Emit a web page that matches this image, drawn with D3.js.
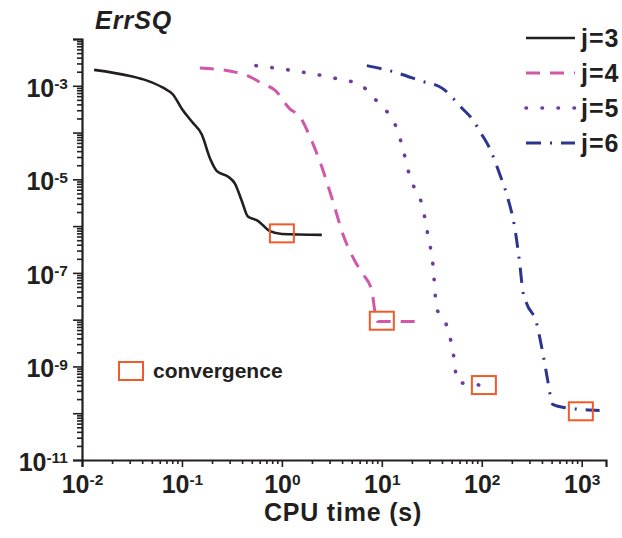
<!DOCTYPE html>
<html>
<head>
<meta charset="utf-8">
<script src="https://cdn.jsdelivr.net/npm/d3@7"></script>
<style>
  body { margin: 0; background: #fff; }
  svg { font-family: "Liberation Sans", Arial, sans-serif; font-weight: bold; }
</style>
</head>
<body>
<svg id="chart" width="622" height="538"></svg>
<script>
// series: CPU time (s) and squared error
const t3 = [0.0132, 0.0302, 0.0447, 0.0646, 0.0813, 0.1, 0.126, 0.158, 0.191, 0.224, 0.288, 0.339, 0.398, 0.457, 0.575, 0.759, 1.0, 2.51];
const e3 = [2.19e-3, 1.62e-3, 1.29e-3, 9.1e-4, 6.5e-4, 3.2e-4, 1.7e-4, 9.1e-5, 2.8e-5, 1.5e-5, 1.15e-5, 8.1e-6, 3.4e-6, 1.6e-6, 1.3e-6, 7.8e-7, 6.8e-7, 6.5e-7];

const t4 = [0.151, 0.363, 0.479, 0.646, 0.851, 1.20, 1.51, 1.91, 2.40, 3.24, 4.07, 5.37, 6.46, 7.94, 8.51, 9.12, 22.4];
const e4 = [2.4e-3, 1.9e-3, 1.55e-3, 1.1e-3, 8.1e-4, 3.2e-4, 2.2e-4, 8.1e-5, 2.4e-5, 3.4e-6, 6.8e-7, 1.8e-7, 9.5e-8, 4.2e-8, 1.55e-8, 9.1e-9, 9.1e-9];

const t5 = [0.55, 1.51, 3.24, 6.31, 7.59, 9.55, 12.6, 14.5, 16.2, 19.1, 21.4, 25.1, 28.8, 32.4, 35.5, 42.7, 51.3, 57.5, 81.3, 115];
const e5 = [2.7e-3, 2.0e-3, 1.48e-3, 1.0e-3, 6.8e-4, 4.0e-4, 2.0e-4, 1.05e-4, 4.6e-5, 1.15e-5, 6.2e-6, 3.0e-6, 6.8e-7, 1.55e-7, 1.7e-8, 9.5e-9, 2.2e-9, 4.6e-10, 4.2e-10, 3.7e-10];

const t6 = [7.08, 12.0, 24.0, 40.7, 64.6, 79.4, 100, 120, 151, 182, 214, 240, 257, 282, 355, 380, 427, 457, 513, 708, 1510];
const e6 = [2.7e-3, 2.1e-3, 1.29e-3, 8.7e-4, 3.2e-4, 2.0e-4, 9.1e-5, 4.6e-5, 1.3e-5, 4.0e-6, 9.1e-7, 1.55e-7, 4.2e-8, 2.2e-8, 8.1e-9, 4.2e-9, 1.15e-9, 5.0e-10, 1.55e-10, 1.3e-10, 1.15e-10];

const seriesNames = ["j=3", "j=4", "j=5", "j=6"];
const convTime = [1.0, 10, 105, 980];
const convErr = [7.0e-7, 9.5e-9, 4.0e-10, 1.1e-10];

const xTicks = [1e-2, 1e-1, 1e0, 1e1, 1e2, 1e3];
const yTicks = [1e-2, 1e-3, 1e-4, 1e-5, 1e-6, 1e-7, 1e-8, 1e-9, 1e-10, 1e-11];
const yLabelled = [1e-3, 1e-5, 1e-7, 1e-9, 1e-11];

const ink = "#231f20";
const styles = [
  { color: "#231f20", dash: null, width: 2.6, cap: "butt" },
  { color: "#d257a8", dash: "14,10", width: 3, cap: "butt" },
  { color: "#6e3c9c", dash: "0.5,15.5", width: 3.6, cap: "round" },
  { color: "#2b3590", dash: "15,9,2,9", width: 3, cap: "butt" }
];
const convColor = "#f15a29";

const svg = d3.select("#chart");

const x = d3.scaleLog().domain([0.01, 1750]).range([82, 606]);
const y = d3.scaleLog().domain([1e-11, 1e-2]).range([460, 39]);

// minor tick values (2..9 per decade)
function minors(lo, hi) {
  const out = [];
  for (let p = lo; p < hi; p++)
    for (let m = 2; m <= 9; m++) out.push(m * Math.pow(10, p));
  return out;
}

function sup(sel) {
  sel.each(function(d) {
    const t = d3.select(this);
    const exp = Math.round(Math.log10(d));
    t.text(null);
    t.append("tspan").text("10");
    t.append("tspan").attr("dy", "-0.5em").attr("font-size", "0.62em").text(exp);
  });
}

// x axis
svg.append("g")
  .attr("transform", "translate(0,460)")
  .call(d3.axisBottom(x).tickValues(minors(-2, 4).filter(v => v < 1750)).tickSize(4).tickFormat(""))
  .call(g => g.select(".domain").remove());

const xa = svg.append("g")
  .attr("transform", "translate(0,460)")
  .call(d3.axisBottom(x).tickValues(xTicks).tickSize(7).tickPadding(6));
xa.selectAll(".tick text").attr("font-size", 25).attr("fill", ink).attr("dy", "0.78em").call(sup);

// y axis
svg.append("g")
  .attr("transform", "translate(82,0)")
  .call(d3.axisLeft(y).tickValues(minors(-11, -2)).tickSize(5).tickFormat(""))
  .call(g => g.select(".domain").remove());

const ya = svg.append("g")
  .attr("transform", "translate(82,0)")
  .call(d3.axisLeft(y).tickValues(yTicks).tickSize(9).tickPadding(5));
ya.selectAll(".tick text")
  .filter(d => !yLabelled.includes(d)).remove();
ya.selectAll(".tick text").attr("font-size", 25).attr("fill", ink).attr("dy", "0.42em").call(sup);

svg.selectAll(".domain").attr("stroke", ink).attr("stroke-width", 2.2);
svg.selectAll(".tick line").attr("stroke", ink).attr("stroke-width", 1.6);

// curves
const allT = [t3, t4, t5, t6];
const allE = [e3, e4, e5, e6];
const line = d3.line()
  .x(d => x(d[0]))
  .y(d => y(d[1]))
  .curve(d3.curveMonotoneX);

allT.forEach((ts, i) => {
  const pts = ts.map((t, k) => [t, allE[i][k]]);
  const s = styles[i];
  svg.append("path")
    .datum(pts)
    .attr("d", line)
    .attr("fill", "none")
    .attr("stroke", s.color)
    .attr("stroke-width", s.width)
    .attr("stroke-linecap", s.cap)
    .attr("stroke-dasharray", s.dash);
});

// convergence markers
svg.selectAll(".conv")
  .data(convTime.map((t, i) => [t, convErr[i]]))
  .join("rect")
  .attr("class", "conv")
  .attr("x", d => x(d[0]) - 12)
  .attr("y", d => y(d[1]) - 9)
  .attr("width", 24)
  .attr("height", 18)
  .attr("fill", "none")
  .attr("stroke", convColor)
  .attr("stroke-width", 2);

// legend
const lg = svg.append("g");
seriesNames.forEach((name, i) => {
  const ly = 38 + i * 35;
  const s = styles[i];
  lg.append("line")
    .attr("x1", 526).attr("x2", 575).attr("y1", ly).attr("y2", ly)
    .attr("stroke", s.color).attr("stroke-width", s.width)
    .attr("stroke-linecap", s.cap).attr("stroke-dasharray", s.dash);
  lg.append("text")
    .attr("x", 581).attr("y", ly).attr("dy", "0.36em")
    .attr("font-size", 25).attr("letter-spacing", 1).attr("fill", ink)
    .text(name);
});

svg.append("rect")
  .attr("x", 119).attr("y", 362).attr("width", 24).attr("height", 18)
  .attr("fill", "none").attr("stroke", convColor).attr("stroke-width", 2);
svg.append("text")
  .attr("x", 153).attr("y", 378)
  .attr("font-size", 21).attr("fill", ink)
  .text("convergence");

// titles
svg.append("text")
  .attr("x", 95).attr("y", 29)
  .attr("font-size", 25).attr("font-style", "italic").attr("letter-spacing", 1)
  .attr("fill", ink)
  .text("ErrSQ");

svg.append("text")
  .attr("x", 343).attr("y", 521)
  .attr("text-anchor", "middle")
  .attr("font-size", 25).attr("letter-spacing", 0.8).attr("fill", ink)
  .text("CPU time (s)");
</script>
</body>
</html>
